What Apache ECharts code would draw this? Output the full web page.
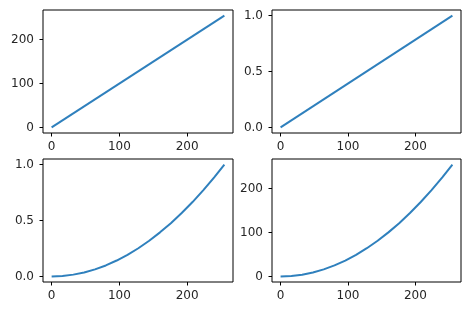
<!DOCTYPE html>
<html>
<head>
<meta charset="utf-8">
<script src="https://cdn.jsdelivr.net/npm/echarts@6/dist/echarts.min.js"></script>
<style>html,body{margin:0;padding:0;background:#fff}#c{width:470px;height:311px}</style>
</head>
<body>
<div id="c"></div>
<script>
// Data
var xLinear = [0, 255];
var yLinear255 = [0, 255];
var yLinear1 = [0, 1.0];
var xCurve = [0, 16, 32, 48, 64, 80, 96, 112, 128, 144, 160, 176, 192, 208, 224, 240, 255];
var yCurve1 = [0, 0.004, 0.016, 0.035, 0.063, 0.098, 0.142, 0.193, 0.252, 0.319, 0.394, 0.476, 0.567, 0.665, 0.772, 0.886, 1.0];
var yCurve255 = [0, 1.0, 4.0, 9.0, 16.1, 25.1, 36.1, 49.2, 64.3, 81.3, 100.4, 121.4, 144.6, 169.6, 196.8, 225.9, 255];
var xTicks = [0, 100, 200];
var yTicks255 = [0, 100, 200];
var yTicks1 = [0, 0.5, 1.0];

function pairs(xs, ys) { return xs.map(function (x, i) { return [x, ys[i]]; }); }

var font = { fontFamily: 'DejaVu Sans', fontSize: 12, color: '#262626' };
var grids = [
  { left: 43, top: 10, width: 190, height: 123 },
  { left: 272, top: 10, width: 189, height: 123 },
  { left: 43, top: 159, width: 190, height: 123 },
  { left: 272, top: 159, width: 189, height: 123 }
].map(function (g) {
  return Object.assign({ show: true, borderColor: '#000', borderWidth: 1, backgroundColor: '#fff' }, g);
});

function xAxis(i) {
  return {
    gridIndex: i, type: 'value', min: -12.75, max: 267.75,
    axisLine: { show: false, onZero: false }, splitLine: { show: false },
    axisTick: { show: true, inside: false, length: 3.5, lineStyle: { color: '#000' }, customValues: xTicks },
    axisLabel: Object.assign({ margin: 8, customValues: xTicks }, font)
  };
}
function yAxis(i, unit) {
  var ticks = unit ? yTicks1 : yTicks255;
  var span = unit ? 1 : 255;
  return {
    gridIndex: i, type: 'value', min: -0.05 * span, max: 1.05 * span,
    axisLine: { show: false, onZero: false }, splitLine: { show: false },
    axisTick: { show: true, inside: false, length: 3.5, lineStyle: { color: '#000' }, customValues: ticks },
    axisLabel: Object.assign({ margin: 9, customValues: ticks,
      formatter: function (v) { return unit ? v.toFixed(1) : String(Math.round(v)); } }, font)
  };
}
function line(i, data) {
  return {
    type: 'line', xAxisIndex: i, yAxisIndex: i, data: data, showSymbol: false,
    smooth: false,
    lineStyle: { color: '#2f80bd', width: 2 }, animation: false
  };
}

var chart = echarts.init(document.getElementById('c'), null, { renderer: 'canvas' });
chart.setOption({
  animation: false,
  grid: grids,
  xAxis: [xAxis(0), xAxis(1), xAxis(2), xAxis(3)],
  yAxis: [yAxis(0, false), yAxis(1, true), yAxis(2, true), yAxis(3, false)],
  series: [
    line(0, pairs(xLinear, yLinear255)),
    line(1, pairs(xLinear, yLinear1)),
    line(2, pairs(xCurve, yCurve1)),
    line(3, pairs(xCurve, yCurve255))
  ]
});
</script>
</body>
</html>
